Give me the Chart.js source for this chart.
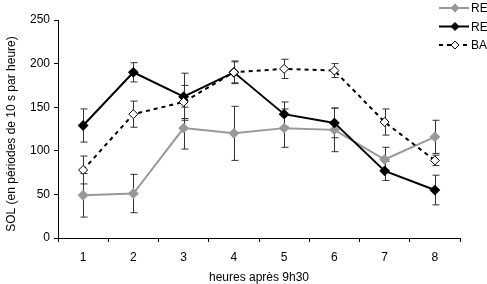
<!DOCTYPE html>
<html>
<head>
<meta charset="utf-8">
<script src="https://cdn.jsdelivr.net/npm/chart.js@4/dist/chart.umd.min.js"></script>
<style>
  body { margin: 0; background: #fff; }
  #wrap { width: 487px; height: 284px; }
</style>
</head>
<body>
<div id="wrap"><canvas id="c" width="487" height="284"></canvas></div>
<script>
const hours = ["1", "2", "3", "4", "5", "6", "7", "8"];
const legendNames = ["RE", "RE", "BA"];
const xTitle = "heures après 9h30";
const yTitle = "SOL (en périodes de 10 s par heure)";

const grayVals = [49, 51, 126, 120, 126, 124, 90, 116];
const grayErr = [25, 22, 24, 31, 22, 25, 14, 19];

const blackVals = [129, 190, 162, 190, 142, 132, 77, 55];
const blackErr = [19, 11, 27, 13, 14, 17, 11, 17];

const dashVals = [78, 142, 156, 190, 194, 192, 133, 89];
const dashErr = [16, 15, 19, 12, 11, 8, 15, 6];

const yTicks = [0, 50, 100, 150, 200, 250];

const FONT = "'Liberation Sans', Arial, sans-serif";
Chart.defaults.font.family = FONT;
Chart.defaults.font.size = 12;
Chart.defaults.color = "#000";

// error bars for each dataset, drawn under the lines
const errorBars = {
  id: "errorBars",
  beforeDatasetsDraw(chart) {
    const ctx = chart.ctx;
    const x = chart.scales.x, y = chart.scales.y;
    ctx.save();
    ctx.strokeStyle = "#333";
    ctx.lineWidth = 1;
    chart.data.datasets.forEach(ds => {
      ds.data.forEach((v, i) => {
        const e = ds.err[i];
        const px = Math.round(x.getPixelForValue(i)) + 0.5;
        const top = y.getPixelForValue(v + e);
        const bot = y.getPixelForValue(v - e);
        ctx.beginPath();
        ctx.moveTo(px, top); ctx.lineTo(px, bot);
        ctx.moveTo(px - 3, top); ctx.lineTo(px + 4, top);
        ctx.moveTo(px - 3, bot); ctx.lineTo(px + 4, bot);
        ctx.stroke();
      });
    });
    ctx.restore();
  }
};

// axis titles + legend in the top right corner (cut off by the edge like the original)
const extras = {
  id: "extras",
  afterDraw(chart) {
    const ctx = chart.ctx;
    const a = chart.chartArea;
    ctx.save();
    ctx.fillStyle = "#000";
    ctx.font = "12px " + FONT;
    ctx.textAlign = "center";
    ctx.textBaseline = "middle";
    ctx.fillText(xTitle, (a.left + a.right) / 2, 278);
    ctx.save();
    ctx.translate(12, 134);
    ctx.rotate(-Math.PI / 2);
    ctx.fillText(yTitle, 0, 0);
    ctx.restore();

    ctx.textAlign = "left";
    chart.data.datasets.forEach((ds, i) => {
      const yy = 8 + i * 18.5;
      ctx.strokeStyle = ds.borderColor;
      ctx.lineWidth = 2;
      ctx.setLineDash(ds.borderDash || []);
      ctx.beginPath();
      ctx.moveTo(439, yy); ctx.lineTo(469, yy);
      ctx.stroke();
      ctx.setLineDash([]);
      ctx.beginPath();
      ctx.moveTo(455, yy - 4); ctx.lineTo(459, yy);
      ctx.lineTo(455, yy + 4); ctx.lineTo(451, yy);
      ctx.closePath();
      ctx.fillStyle = ds.pointBackgroundColor;
      ctx.fill();
      ctx.lineWidth = 1;
      ctx.strokeStyle = ds.pointBorderColor;
      ctx.stroke();
      ctx.fillStyle = "#000";
      ctx.fillText(legendNames[i], 471, yy + 1);
    });
    ctx.restore();
  }
};

new Chart(document.getElementById("c"), {
  type: "line",
  data: {
    labels: hours,
    datasets: [
      {
        label: legendNames[0], data: grayVals, err: grayErr, order: 2,
        borderColor: "#999", borderWidth: 2,
        pointStyle: "rectRot", pointRadius: 4,
        pointBackgroundColor: "#999", pointBorderColor: "#999"
      },
      {
        label: legendNames[1], data: blackVals, err: blackErr, order: 1,
        borderColor: "#000", borderWidth: 2,
        pointStyle: "rectRot", pointRadius: 4,
        pointBackgroundColor: "#000", pointBorderColor: "#000"
      },
      {
        label: legendNames[2], data: dashVals, err: dashErr, order: 0,
        borderColor: "#000", borderWidth: 2, borderDash: [4, 4],
        pointStyle: "rectRot", pointRadius: 4.5, pointBorderWidth: 1,
        pointBackgroundColor: "#fff", pointBorderColor: "#000"
      }
    ]
  },
  options: {
    responsive: false,
    animation: false,
    layout: { padding: { top: 20, right: 27, left: 0, bottom: 0 } },
    plugins: { legend: { display: false }, tooltip: { enabled: false } },
    elements: { line: { tension: 0 } },
    scales: {
      x: {
        offset: true,
        grid: { offset: true, drawOnChartArea: false, color: "#000", tickLength: 4 },
        border: { color: "#000" },
        ticks: { padding: 8 },
        afterFit(s) { s.height = 46; }
      },
      y: {
        min: 0, max: 250,
        afterBuildTicks(s) { s.ticks = yTicks.map(v => ({ value: v })); },
        grid: { drawOnChartArea: false, color: "#000", tickLength: 4 },
        border: { color: "#000" },
        ticks: { padding: 4 },
        afterFit(s) { s.width = 58; }
      }
    }
  },
  plugins: [errorBars, extras]
});
</script>
</body>
</html>
